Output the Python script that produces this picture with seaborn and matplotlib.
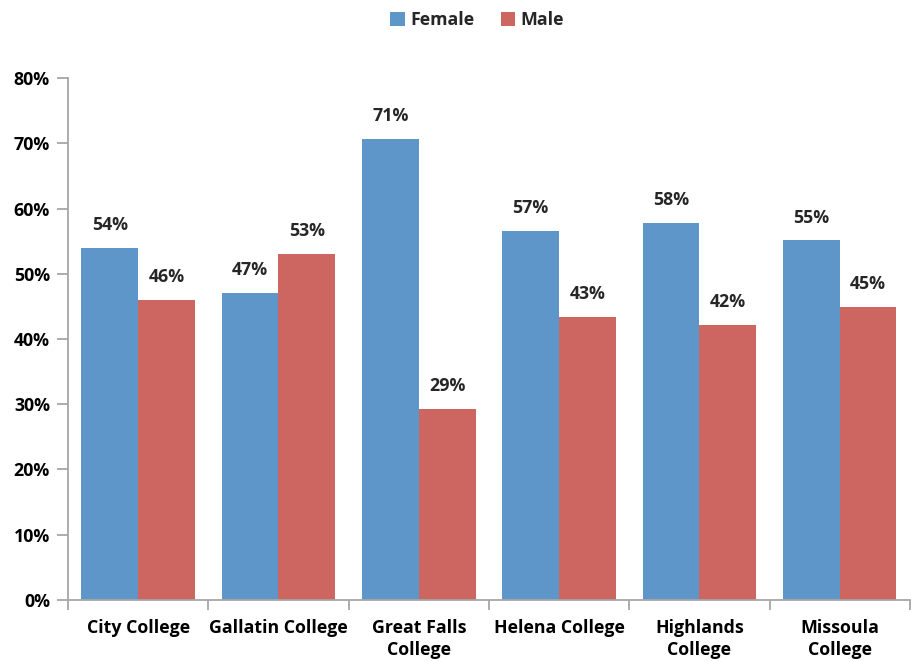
import matplotlib
matplotlib.use("Agg")
import matplotlib.pyplot as plt
import numpy as np
import pandas as pd
import seaborn as sns
from matplotlib.ticker import FixedLocator, PercentFormatter

COLLEGES = ["City College", "Gallatin College", "Great Falls\nCollege",
            "Helena College", "Highlands\nCollege", "Missoula\nCollege"]
FEMALE = [54.0, 47.0, 70.7, 56.6, 57.8, 55.1]
MALE = [46.0, 53.0, 29.3, 43.4, 42.2, 44.9]
GENDERS = ["Female", "Male"]
COLORS = ["#5F96CA", "#CD6660"]

df = pd.DataFrame({
    "college": COLLEGES * 2,
    "gender": ["Female"] * len(COLLEGES) + ["Male"] * len(COLLEGES),
    "share": FEMALE + MALE,
})

sns.set_theme(style="white")
plt.rcParams["font.family"] = ["Open Sans", "DejaVu Sans"]
plt.rcParams["font.weight"] = "bold"
FS = 12.8

fig = plt.figure(figsize=(9.12, 6.62), dpi=100)
ax = fig.add_axes([0.0746, 0.094, 0.923, 0.788])

sns.barplot(data=df, x="college", y="share", hue="gender", hue_order=GENDERS,
            palette=COLORS, width=0.81, saturation=1, linewidth=0, ax=ax, legend=True)

for cont in ax.containers:
    ax.bar_label(cont, labels=[f"{v:.0f}%" for v in cont.datavalues],
                 padding=10, fontsize=FS, fontweight="bold")

ax.set_ylim(0, 80)
ax.set_xlim(-0.5, len(COLLEGES) - 0.5)
ax.yaxis.set_major_locator(FixedLocator(np.arange(0, 81, 10)))
ax.yaxis.set_major_formatter(PercentFormatter(decimals=0))
ax.set_xlabel("")
ax.set_ylabel("")

grey = "#A6A6A6"
for s in ["top", "right"]:
    ax.spines[s].set_visible(False)
for s in ["left", "bottom"]:
    ax.spines[s].set_color(grey)
    ax.spines[s].set_linewidth(1.3)

ax.tick_params(axis="y", which="major", direction="out", length=8, color=grey,
               width=1.3, labelsize=FS, pad=5, left=True)
ax.tick_params(axis="x", which="major", length=0, labelsize=FS, pad=14)
ax.xaxis.set_minor_locator(FixedLocator(np.arange(-0.5, len(COLLEGES), 1)))
ax.tick_params(axis="x", which="minor", direction="out", length=7, color=grey,
               width=1.3, bottom=True)
for lbl in ax.get_xticklabels() + ax.get_yticklabels():
    lbl.set_fontweight("bold")
    lbl.set_color("black")
    lbl.set_linespacing(1.3)

handles, labels = ax.get_legend_handles_labels()
ax.legend(handles, labels, loc="center", bbox_to_anchor=(0.486, 1.111),
          ncol=2, frameon=False, handlelength=0.8, handleheight=0.9,
          handletextpad=0.3, columnspacing=1.5,
          prop={"weight": "bold", "size": FS})

fig.savefig("out.png", dpi=100)
